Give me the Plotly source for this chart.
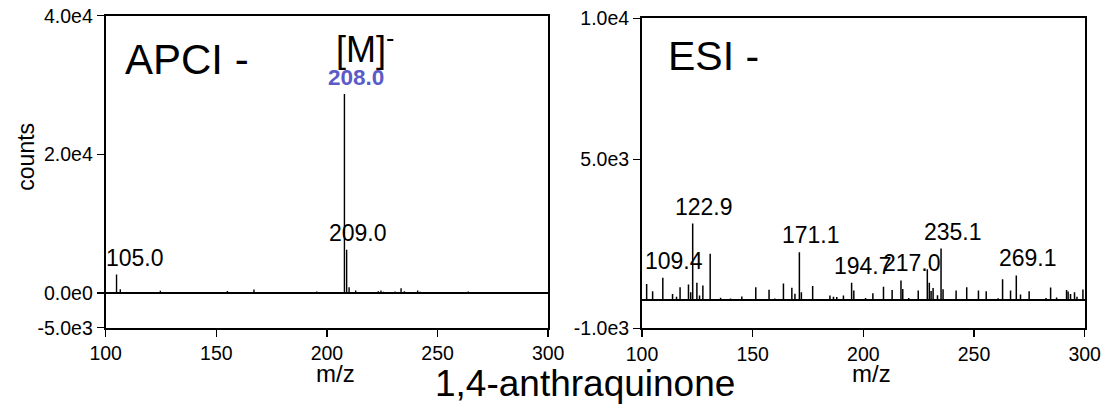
import plotly.graph_objects as go

# ---------------- data ----------------
apci_mz = [104.9, 106.6, 110.5, 115.0, 119.5, 124.7, 128.0, 131.2, 134.5, 137.2,
           140.2, 143.5, 147.0, 150.5, 155.0, 158.5, 162.5, 167.0, 171.5, 176.4,
           181.0, 186.9, 191.0, 195.4, 200.0, 207.9, 208.9, 210.0, 213.0, 216.5,
           220.0, 223.2, 224.4, 225.5, 230.8, 233.5, 235.0, 238.0, 241.0, 242.1,
           246.0, 250.0, 254.5, 259.0, 263.9, 268.0, 272.0, 275.2, 280.0, 285.0,
           290.0, 295.0]
apci_counts = [2670, 550, 90, 80, 70, 320, 90, 120, 80, 150,
               100, 80, 90, 110, 290, 80, 90, 500, 90, 150,
               80, 150, 90, 220, 80, 28700, 6240, 840, 360, 110,
               120, 260, 360, 200, 220, 690, 250, 100, 360, 200,
               120, 90, 100, 80, 220, 90, 80, 120, 80, 90,
               80, 90]

esi_mz = [102.1, 104.8, 109.4, 113.8, 115.6, 117.2, 121.0, 122.0, 122.9, 124.8,
          126.0, 127.5, 130.8, 135.5, 140.0, 145.1, 151.4, 157.4, 160.0, 163.9,
          167.7, 169.1, 171.1, 172.0, 177.1, 184.9, 186.5, 188.0, 191.0, 194.7,
          195.7, 201.0, 204.3, 209.1, 213.0, 217.0, 217.8, 220.5, 224.8, 228.9,
          229.8, 230.6, 231.5, 233.5, 235.1, 236.0, 241.9, 246.7, 252.0, 255.5,
          260.9, 262.9, 266.5, 269.1, 271.0, 274.9, 282.5, 284.6, 287.3, 291.8,
          292.5, 293.6, 295.4, 296.5, 299.2]
esi_counts = [575, 320, 800, 220, 120, 460, 560, 280, 2720, 620,
              170, 520, 1650, 90, 60, 130, 460, 370, 60, 590,
              440, 230, 1700, 280, 500, 170, 120, 110, 170, 620,
              340, 80, 250, 480, 360, 700, 400, 80, 340, 1100,
              620, 330, 430, 180, 1830, 390, 340, 460, 340, 320,
              70, 740, 340, 880, 200, 320, 80, 450, 100, 360,
              310, 220, 280, 120, 380]

apci_label_mz = [104.9, 208.9, 207.9]
apci_label_text = ["105.0", "209.0", "208.0"]
esi_label_mz = [109.4, 122.9, 171.1, 194.7, 217.0, 235.1, 269.1]
esi_label_text = ["109.4", "122.9", "171.1", "194.7", "217.0", "235.1", "269.1"]

x_ticks = [100, 150, 200, 250, 300]
apci_y_ticks = [-5000, 0, 20000, 40000]
apci_y_text = ["-5.0e3", "0.0e0", "2.0e4", "4.0e4"]
esi_y_ticks = [-1000, 5000, 10000]
esi_y_text = ["-1.0e3", "5.0e3", "1.0e4"]

FONT = "Arial, Liberation Sans, sans-serif"
W, H = 1114, 411


def sticks(mz, counts):
    xs, ys = [], []
    for m, c in zip(mz, counts):
        xs += [m, m, None]
        ys += [0, c, None]
    return xs, ys


fig = go.Figure()
ax, ay = sticks(apci_mz, apci_counts)
fig.add_trace(go.Scatter(x=ax, y=ay, mode="lines", line=dict(color="black", width=1.4),
                         xaxis="x", yaxis="y", hoverinfo="skip", showlegend=False))
ex, ey = sticks(esi_mz, esi_counts)
fig.add_trace(go.Scatter(x=ex, y=ey, mode="lines", line=dict(color="black", width=1.5),
                         xaxis="x2", yaxis="y2", hoverinfo="skip", showlegend=False))

axis_common = dict(showline=True, mirror=True, linecolor="black", linewidth=2,
                   showgrid=False, ticks="outside", ticklen=7, tickwidth=1.5,
                   tickcolor="black", automargin=False,
                   tickfont=dict(family=FONT, size=19.5, color="black"))

fig.update_layout(
    width=W, height=H, autosize=False,
    margin=dict(l=0, r=0, t=0, b=0, autoexpand=False),
    paper_bgcolor="white", plot_bgcolor="white",
    xaxis=dict(domain=[105.7 / W, 548.2 / W], range=[100, 300], tickvals=x_ticks,
               zeroline=False, anchor="y", **axis_common),
    yaxis=dict(domain=[1 - 327.7 / H, 1 - 15.7 / H], range=[-5000, 40000],
               tickvals=apci_y_ticks, ticktext=apci_y_text, zeroline=True,
               zerolinecolor="black", zerolinewidth=2, anchor="x", **axis_common),
    xaxis2=dict(domain=[642 / W, 1084.7 / W], range=[100, 300], tickvals=x_ticks,
                zeroline=False, anchor="y2", **axis_common),
    yaxis2=dict(domain=[1 - 328.4 / H, 1 - 18.3 / H], range=[-1000, 10000],
                tickvals=esi_y_ticks, ticktext=esi_y_text, zeroline=True,
                zerolinecolor="black", zerolinewidth=2, anchor="x2", **axis_common),
)

annotations = []
apci_lookup = dict(zip(apci_mz, apci_counts))
for m, t in zip(apci_label_mz, apci_label_text):
    bold = t == "208.0"
    annotations.append(dict(
        x=m, y=apci_lookup[m], xref="x", yref="y", showarrow=False,
        text=f"<b>{t}</b>" if bold else t,
        font=dict(family=FONT, size=23 if not bold else 22.5,
                  color="#5a5ac8" if bold else "black"),
        xanchor="center", yanchor="middle",
        xshift=18 if t == "105.0" else 11.5, yshift=17))
annotations.append(dict(
    x=207.9, y=apci_lookup[207.9], xref="x", yref="y", showarrow=False,
    text="[M]<sup>-</sup>", font=dict(family=FONT, size=36, color="black"),
    xanchor="center", yanchor="middle", xshift=21, yshift=47))

esi_lookup = dict(zip(esi_mz, esi_counts))
for m, t in zip(esi_label_mz, esi_label_text):
    annotations.append(dict(
        x=m, y=esi_lookup[m], xref="x2", yref="y2", showarrow=False, text=t,
        font=dict(family=FONT, size=23, color="black"),
        xanchor="center", yanchor="middle", xshift=11.5, yshift=17))

# panel texts and axis titles
annotations += [
    dict(x=187 / W, y=1 - 59.7 / H, xref="paper", yref="paper", text="APCI -",
         showarrow=False, font=dict(family=FONT, size=42, color="black"),
         xanchor="center", yanchor="middle"),
    dict(x=713.7 / W, y=1 - 55.5 / H, xref="paper", yref="paper", text="ESI -",
         showarrow=False, font=dict(family=FONT, size=41, color="black"),
         xanchor="center", yanchor="middle"),
    dict(x=585.3 / W, y=1 - 383.5 / H, xref="paper", yref="paper", text="1,4-anthraquinone",
         showarrow=False, font=dict(family=FONT, size=37, color="black"),
         xanchor="center", yanchor="middle"),
    dict(x=335.7 / W, y=1 - 373 / H, xref="paper", yref="paper", text="m/z",
         showarrow=False, font=dict(family=FONT, size=24, color="black"),
         xanchor="center", yanchor="middle"),
    dict(x=871 / W, y=1 - 373 / H, xref="paper", yref="paper", text="m/z",
         showarrow=False, font=dict(family=FONT, size=24, color="black"),
         xanchor="center", yanchor="middle"),
    dict(x=26 / W, y=1 - 156.7 / H, xref="paper", yref="paper", text="counts",
         showarrow=False, textangle=-90, font=dict(family=FONT, size=23, color="black"),
         xanchor="center", yanchor="middle"),
]
fig.update_layout(annotations=annotations)

fig.write_html(
    "out.html",
    config={"displayModeBar": False, "staticPlot": True},
    post_script="document.body.style.margin='0px';document.body.style.overflow='hidden';",
)
